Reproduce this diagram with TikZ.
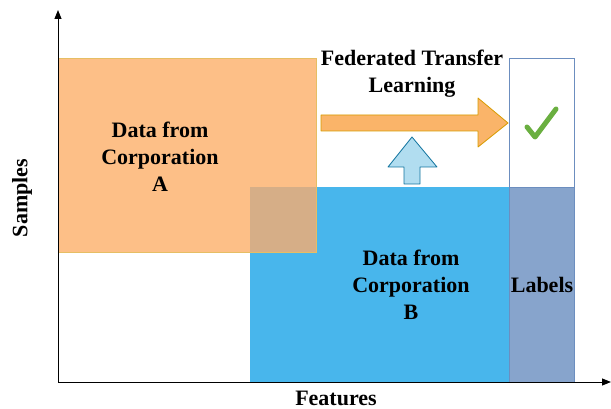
\documentclass[tikz,border=0pt]{standalone}
\usepackage{fontspec}
\setmainfont{Liberation Serif}
\usetikzlibrary{arrows.meta}
\definecolor{orA}{RGB}{253,191,135}
\definecolor{orAline}{RGB}{230,190,100}
\definecolor{tanOv}{RGB}{214,174,135}
\definecolor{blB}{RGB}{72,182,236}
\definecolor{lab}{RGB}{135,164,204}
\definecolor{labline}{RGB}{108,142,191}
\definecolor{arrOr}{RGB}{250,180,105}
\definecolor{arrOrLine}{RGB}{215,155,0}
\definecolor{arrBl}{RGB}{177,221,240}
\definecolor{arrBlLine}{RGB}{16,115,158}
\definecolor{chk}{RGB}{106,175,64}
\begin{document}
\begin{tikzpicture}[x=1pt,y=-1pt,
  lbl/.style={font=\fontsize{22}{27}\selectfont\bfseries, align=center, inner sep=0pt},
  box/.style={anchor=north west, inner sep=0pt, outer sep=0pt, line width=0.8pt}]
\useasboundingbox (0,0) rectangle (611,409);
% boxes
\node[box, fill=blB, minimum width=259pt, minimum height=195pt] (B) at (250,187) {};
\node[box, fill=lab, draw=labline, minimum width=65pt, minimum height=195pt] (L) at (509,187) {};
\node[box, fill=white, draw=labline, minimum width=65pt, minimum height=129pt] (W) at (509,58) {};
\node[box, fill=orA, minimum width=258pt, minimum height=194pt] (A) at (58,58) {};
\node[box, fill=tanOv, minimum width=66pt, minimum height=65pt] (ov) at (250,187) {};
\node[box, draw=orAline, minimum width=258pt, minimum height=194pt] (Aline) at (58,58) {};
% axes
\coordinate (O) at (58,382);
\coordinate (ytip) at (58,10);
\coordinate (xtip) at (611,382);
\draw[line width=1pt, -{Triangle[length=9pt,width=7pt]}] (O) -- (ytip);
\draw[line width=1pt, -{Triangle[length=9pt,width=7pt]}] (O) -- (xtip);
% texts
\node[lbl] (tA) at (160,157) {Data from\\Corporation\\A};
\node[lbl] (tB) at (411,285) {Data from\\Corporation\\B};
\node[lbl] (tL) at (542,285) {Labels};
\node[lbl] (tF) at (412,74) {Federated Transfer\\Learning};
\node[lbl, rotate=90] (tS) at (22,198) {Samples};
\node[lbl] (tX) at (336,398) {Features};
% orange arrow
\draw[fill=arrOr, draw=arrOrLine, line width=0.8pt, line join=round]
  (321,115) -- (478,115) -- (478,98) -- (508,123) -- (478,147) -- (478,131) -- (321,131) -- cycle;
% blue up arrow
\draw[fill=arrBl, draw=arrBlLine, line width=0.8pt, line join=round]
  (412,137) -- (437,167) -- (420,167) -- (420,184) -- (404,184) -- (404,167) -- (388,167) -- cycle;
% checkmark
\draw[chk, line width=5pt, line cap=round, line join=round] (527,127) -- (535,137) -- (556,109);
\end{tikzpicture}
\end{document}
